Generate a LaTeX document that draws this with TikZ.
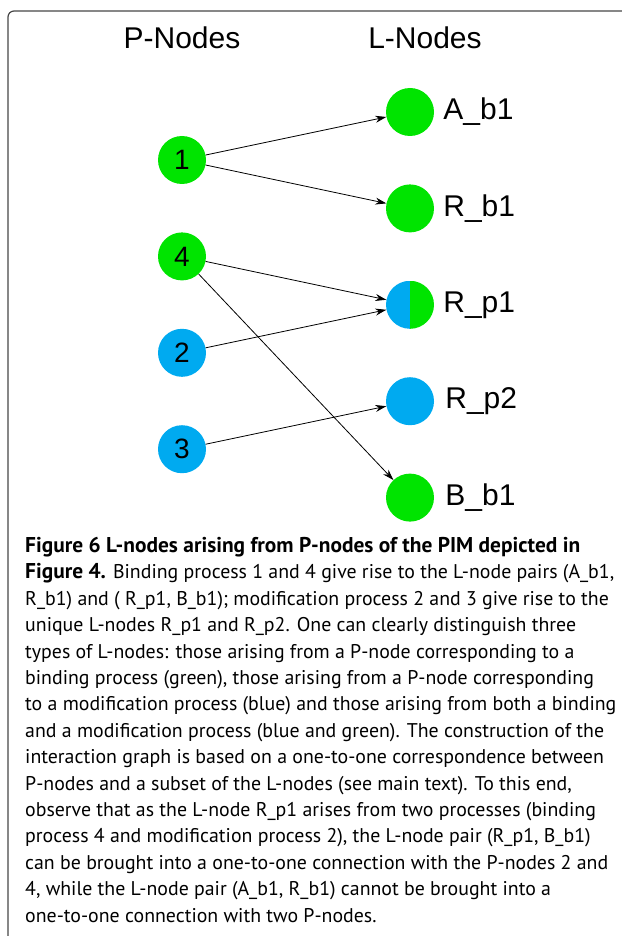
\documentclass[tikz,border=0pt]{standalone}
\usepackage{fontspec}
\setmainfont{PT Sans}
\newfontfamily\arialfont{Liberation Sans}
\usetikzlibrary{positioning}
\usetikzlibrary{arrows.meta}
\definecolor{bindgreen}{RGB}{0,228,0}
\definecolor{modblue}{RGB}{0,170,240}
\definecolor{framegray}{RGB}{70,70,70}
\newcommand\capbold[1]{{\fontsize{21.4}{26.4}\selectfont\bfseries #1}}

\begin{document}
\begin{tikzpicture}[x=1pt,y=-1pt,node distance=48pt,
  pnode/.style={circle,minimum size=48pt,inner sep=0pt,font=\arialfont\fontsize{28}{28}\selectfont},
  lnode/.style={circle,minimum size=48pt,inner sep=0pt},
  lname/.style={inner sep=0pt,font=\arialfont\fontsize{30}{30}\selectfont},
  head/.style={anchor=base,inner sep=0pt,font=\arialfont\fontsize{30}{30}\selectfont},
  link/.style={-{Stealth[length=11pt,width=7pt]},line width=0.8pt}]

  \useasboundingbox (0,0) rectangle (621,936);
  \draw[framegray,line width=1.2pt,rounded corners=6pt] (623,11) -- (8,11) -- (8,938);

  \node[head] (phead) at (182,49) {P-Nodes};
  \node[head] (lhead) at (425,49) {L-Nodes};

  % P-nodes
  \node[pnode,fill=bindgreen] (p1) at (182,160) {1};
  \node[pnode,fill=bindgreen,below=of p1] (p4) {4};
  \node[pnode,fill=modblue,below=of p4] (p2) {2};
  \node[pnode,fill=modblue,below=of p2] (p3) {3};

  % L-nodes
  \node[lnode,fill=bindgreen] (ab1) at (410,112) {};
  \node[lnode,fill=bindgreen,below=of ab1] (rb1) {};
  \node[lnode,below=of rb1,path picture={
      \fill[modblue] (path picture bounding box.north west) rectangle (path picture bounding box.south);
      \fill[bindgreen] (path picture bounding box.north) rectangle (path picture bounding box.south east);}] (rp1) {};
  \node[lnode,fill=modblue,below=of rp1] (rp2) {};
  \node[lnode,fill=bindgreen,below=of rp2] (bb1) {};

  \node[lname,right=9pt of ab1] (tab1) {A\_b1};
  \node[lname,right=9pt of rb1] (trb1) {R\_b1};
  \node[lname,right=9pt of rp1] (trp1) {R\_p1};
  \node[lname,right=11pt of rp2] (trp2) {R\_p2};
  \node[lname,right=11pt of bb1] (tbb1) {B\_b1};

  \path [link] (p1) edge (ab1);
  \path [link] (p1) edge (rb1);
  \path [link] (p4) edge (rp1);
  \path [link] (p4) edge (bb1);
  \path [link] (p2) edge (rp1);
  \path [link] (p3) edge (rp2);

  \node[anchor=north west,inner sep=0pt,align=left,font=\fontsize{19.85}{26.4}\selectfont] (caption) at (25,537)
  {\capbold{Figure 6 L-nodes arising from P-nodes of the PIM depicted in}\\
   \capbold{Figure 4.} Binding process 1 and 4 give rise to the L-node pairs (A\_b1,\\
   R\_b1) and ( R\_p1, B\_b1); modification process 2 and 3 give rise to the\\
   unique L-nodes R\_p1 and R\_p2. One can clearly distinguish three\\
   types of L-nodes: those arising from a P-node corresponding to a\\
   binding process (green), those arising from a P-node corresponding\\
   to a modification process (blue) and those arising from both a binding\\
   and a modification process (blue and green). The construction of the\\
   interaction graph is based on a one-to-one correspondence between\\
   P-nodes and a subset of the L-nodes (see main text). To this end,\\
   observe that as the L-node R\_p1 arises from two processes (binding\\
   process 4 and modification process 2), the L-node pair (R\_p1, B\_b1)\\
   can be brought into a one-to-one connection with the P-nodes 2 and\\
   4, while the L-node pair (A\_b1, R\_b1) cannot be brought into a\\
   one-to-one connection with two P-nodes.};
\end{tikzpicture}
\end{document}
